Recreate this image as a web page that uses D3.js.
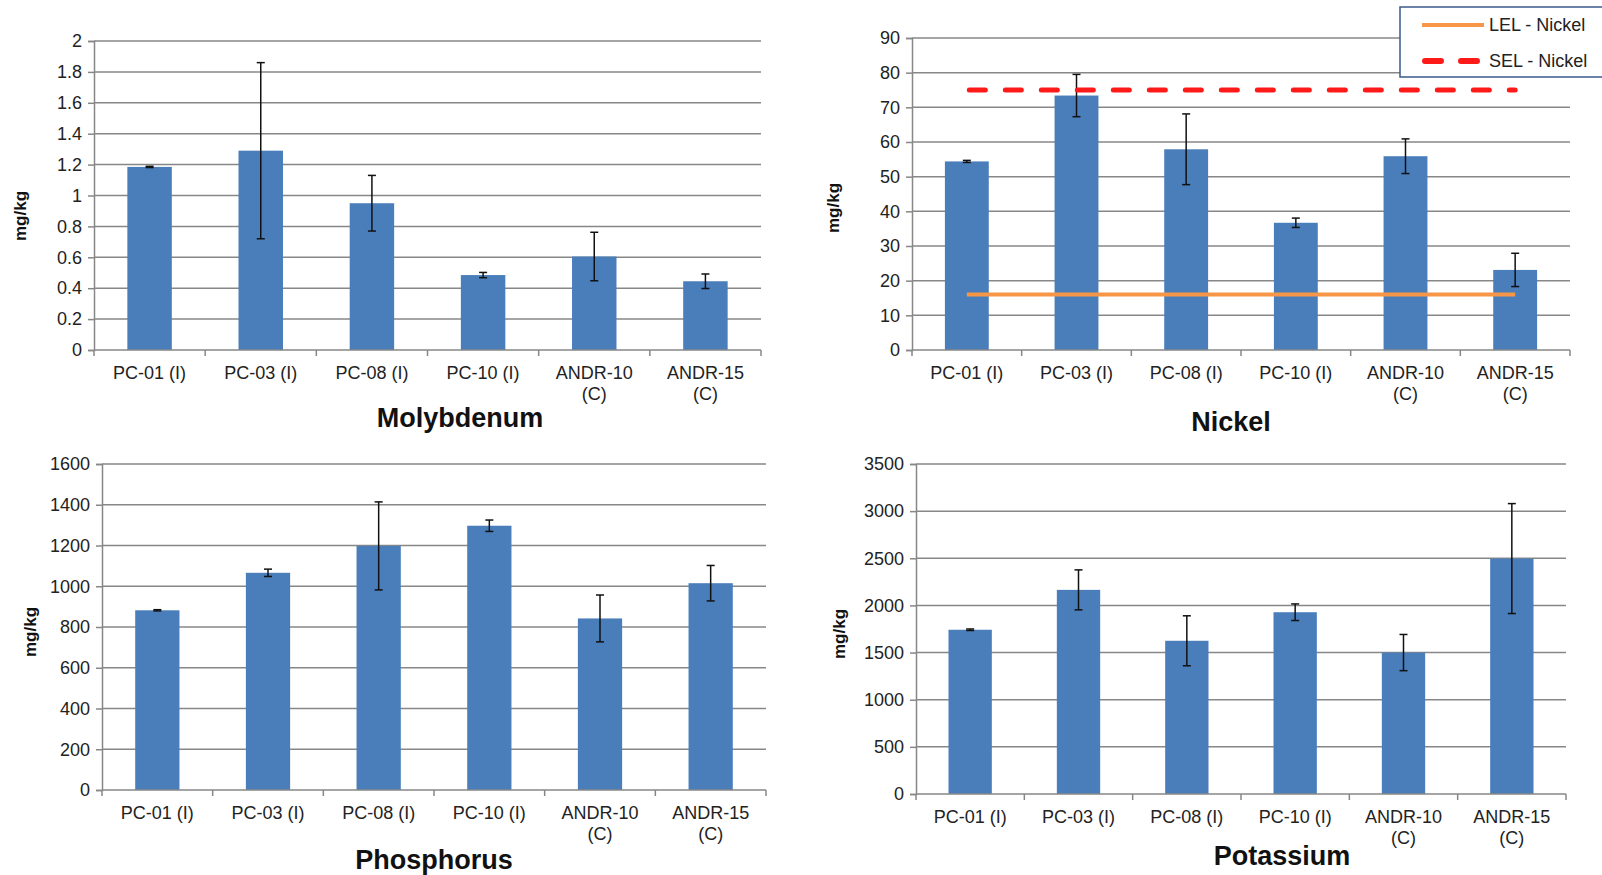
<!DOCTYPE html>
<html>
<head>
<meta charset="utf-8">
<script src="https://cdn.jsdelivr.net/npm/d3@7"></script>
<style>
  body { margin: 0; background: #fff; }
  svg { display: block; font-family: "Liberation Sans", Arial, sans-serif; }
</style>
</head>
<body>
<svg id="chart" width="1602" height="875"></svg>
<script>
// sample sites, shared by all four panels
var categories = ["PC-01 (I)", "PC-03 (I)", "PC-08 (I)", "PC-10 (I)", "ANDR-10 (C)", "ANDR-15 (C)"];
var categoryLines = [["PC-01 (I)"], ["PC-03 (I)"], ["PC-08 (I)"], ["PC-10 (I)"], ["ANDR-10", "(C)"], ["ANDR-15", "(C)"]];

// Molybdenum
var molyValues = [1.185, 1.29, 0.95, 0.485, 0.605, 0.445];
var molyErrors = [0.004, 0.57, 0.18, 0.017, 0.157, 0.047];
var molyTicks = [0, 0.2, 0.4, 0.6, 0.8, 1, 1.2, 1.4, 1.6, 1.8, 2];

// Nickel
var nickelValues = [54.4, 73.4, 57.9, 36.7, 55.9, 23.1];
var nickelErrors = [0.3, 6.1, 10.2, 1.35, 5, 4.8];
var nickelTicks = [0, 10, 20, 30, 40, 50, 60, 70, 80, 90];
var nickelLEL = 16;
var nickelSEL = 75;

// Phosphorus
var phosValues = [882, 1066, 1198, 1297, 842, 1015];
var phosErrors = [3, 18, 216, 28, 115, 87];
var phosTicks = [0, 200, 400, 600, 800, 1000, 1200, 1400, 1600];

// Potassium
var potValues = [1742, 2165, 1625, 1928, 1500, 2497];
var potErrors = [8, 212, 265, 88, 192, 583];
var potTicks = [0, 500, 1000, 1500, 2000, 2500, 3000, 3500];

var svg = d3.select("#chart");
var gridColor = "#878787";
var barColor = "#4a7ebb";

// draw one bar panel with error bars
function drawPanel(p) {
    var x = d3.scaleBand().domain(categories).range([p.left, p.right]);
    var y = d3.scaleLinear().domain([0, d3.max(p.ticks)]).range([p.bottom, p.top]);
    var g = svg.append("g");

    // gridlines
    g.selectAll("line.grid")
        .data(p.ticks.slice(1))
        .enter().append("line")
        .attr("x1", p.left).attr("x2", p.right)
        .attr("y1", function(d) { return y(d); })
        .attr("y2", function(d) { return y(d); })
        .attr("stroke", gridColor).attr("stroke-width", 1.5);

    // y axis
    var yAxis = d3.axisLeft(y).tickValues(p.ticks).tickFormat(d3.format("~g")).tickSize(6).tickPadding(6);
    var ya = g.append("g").attr("transform", "translate(" + p.left + ",0)").call(yAxis);
    ya.select(".domain").attr("stroke", gridColor).attr("stroke-width", 1.5);
    ya.selectAll(".tick line").attr("stroke", gridColor).attr("stroke-width", 1.5);
    ya.selectAll(".tick text").attr("font-size", 18).attr("fill", "#222");

    // bars
    var bw = x.bandwidth() * 0.4;
    g.selectAll("rect.bar")
        .data(p.values)
        .enter().append("rect")
        .attr("x", function(d, i) { return x(categories[i]) + (x.bandwidth() - bw) / 2; })
        .attr("y", function(d) { return y(d); })
        .attr("width", bw)
        .attr("height", function(d) { return y(0) - y(d); })
        .attr("fill", barColor);

    // error bars
    var eb = g.selectAll("g.err")
        .data(p.values)
        .enter().append("g")
        .attr("stroke", "#111").attr("stroke-width", 1.5);
    eb.append("line")
        .attr("x1", function(d, i) { return x(categories[i]) + x.bandwidth() / 2; })
        .attr("x2", function(d, i) { return x(categories[i]) + x.bandwidth() / 2; })
        .attr("y1", function(d, i) { return y(d + p.errors[i]); })
        .attr("y2", function(d, i) { return y(d - p.errors[i]); });
    [1, -1].forEach(function(s) {
        eb.append("line")
            .attr("x1", function(d, i) { return x(categories[i]) + x.bandwidth() / 2 - 4; })
            .attr("x2", function(d, i) { return x(categories[i]) + x.bandwidth() / 2 + 4; })
            .attr("y1", function(d, i) { return y(d + s * p.errors[i]); })
            .attr("y2", function(d, i) { return y(d + s * p.errors[i]); });
    });

    // reference lines (Nickel only)
    if (p.refLines) {
        p.refLines.forEach(function(r) {
            g.append("line")
                .attr("x1", x(categories[0]) + x.bandwidth() / 2 + (r.dash ? 2.5 : 0))
                .attr("x2", x(categories[categories.length - 1]) + x.bandwidth() / 2)
                .attr("y1", y(r.value)).attr("y2", y(r.value))
                .attr("stroke", r.color).attr("stroke-width", r.width)
                .attr("stroke-dasharray", r.dash)
                .attr("stroke-linecap", r.dash ? "round" : "butt");
        });
    }

    // x axis line and boundary ticks
    g.append("line")
        .attr("x1", p.left).attr("x2", p.right)
        .attr("y1", y(0)).attr("y2", y(0))
        .attr("stroke", gridColor).attr("stroke-width", 1.5);
    var bounds = categories.map(function(c) { return x(c); }).concat([p.right]);
    g.selectAll("line.xtick")
        .data(bounds)
        .enter().append("line")
        .attr("x1", function(d) { return d; }).attr("x2", function(d) { return d; })
        .attr("y1", y(0)).attr("y2", y(0) + 6)
        .attr("stroke", gridColor).attr("stroke-width", 1.5);

    // category labels
    var lab = g.selectAll("text.cat")
        .data(categoryLines)
        .enter().append("text")
        .attr("text-anchor", "middle")
        .attr("font-size", 18).attr("fill", "#222")
        .attr("x", function(d, i) { return x(categories[i]) + x.bandwidth() / 2; })
        .attr("y", y(0) + 29);
    lab.selectAll("tspan")
        .data(function(d) { return d; })
        .enter().append("tspan")
        .attr("x", function() { return d3.select(this.parentNode).attr("x"); })
        .attr("dy", function(d, i) { return i === 0 ? 0 : 21; })
        .text(function(d) { return d; });

    // y label
    g.append("text")
        .attr("transform", "translate(" + p.ylabelX + "," + p.ylabelY + ") rotate(-90)")
        .attr("text-anchor", "middle")
        .attr("font-size", 17).attr("font-weight", "bold").attr("fill", "#111")
        .text("mg/kg");

    // title
    g.append("text")
        .attr("x", p.titleX).attr("y", p.titleY)
        .attr("text-anchor", "middle")
        .attr("font-size", 27).attr("font-weight", "bold").attr("fill", "#111")
        .text(p.title);
}

drawPanel({ values: molyValues, errors: molyErrors, ticks: molyTicks,
    left: 94, right: 761, top: 41, bottom: 350, ylabelX: 26, ylabelY: 216,
    title: "Molybdenum", titleX: 460, titleY: 427 });

drawPanel({ values: nickelValues, errors: nickelErrors, ticks: nickelTicks,
    left: 912, right: 1570, top: 38, bottom: 350, ylabelX: 839, ylabelY: 208,
    title: "Nickel", titleX: 1231, titleY: 431,
    refLines: [
        { value: nickelLEL, color: "#f79646", width: 4, dash: null },
        { value: nickelSEL, color: "#ff1a1a", width: 5, dash: "16,20" }
    ] });

drawPanel({ values: phosValues, errors: phosErrors, ticks: phosTicks,
    left: 102, right: 766, top: 464, bottom: 790, ylabelX: 36, ylabelY: 632,
    title: "Phosphorus", titleX: 434, titleY: 869 });

drawPanel({ values: potValues, errors: potErrors, ticks: potTicks,
    left: 916, right: 1566, top: 464, bottom: 794, ylabelX: 845, ylabelY: 634,
    title: "Potassium", titleX: 1282, titleY: 865 });

// legend for the Nickel panel, partly off the right edge like the original
var legend = svg.append("g");
legend.append("rect")
    .attr("x", 1400).attr("y", 7).attr("width", 220).attr("height", 70)
    .attr("fill", "#fff").attr("stroke", "#3a5a8c").attr("stroke-width", 1.5);
var legendItems = [
    { label: "LEL - Nickel", color: "#f79646", width: 4, dash: null, x1: 1422 },
    { label: "SEL - Nickel", color: "#ff1a1a", width: 6, dash: "16,20", x1: 1425 }
];
legendItems.forEach(function(it, i) {
    var cy = 25 + i * 36;
    legend.append("line")
        .attr("x1", it.x1).attr("x2", 1484).attr("y1", cy).attr("y2", cy)
        .attr("stroke", it.color).attr("stroke-width", it.width)
        .attr("stroke-dasharray", it.dash)
        .attr("stroke-linecap", it.dash ? "round" : "butt");
    legend.append("text")
        .attr("x", 1489).attr("y", cy + 6)
        .attr("font-size", 18).attr("fill", "#222")
        .text(it.label);
});
</script>
</body>
</html>
